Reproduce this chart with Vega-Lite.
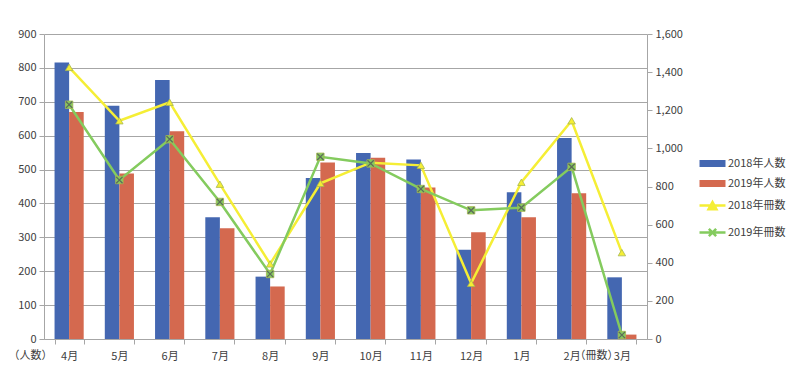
{
  "$schema": "https://vega.github.io/schema/vega-lite/v6.json",
  "width": 603,
  "height": 305,
  "autosize": {"type": "none"},
  "padding": {"left": 44, "top": 34, "right": 157, "bottom": 52},
  "background": "white",
  "config": {
    "view": {"stroke": null},
    "font": "Noto Sans CJK JP",
    "axis": {"labelFont": "Noto Sans CJK JP", "titleFont": "Noto Sans CJK JP", "labelColor": "#404040", "titleColor": "#404040", "labelFontSize": 11, "titleFontSize": 11, "titleFontWeight": "normal", "domainColor": "#a6a6a6", "tickColor": "#a6a6a6"},
    "legend": {"labelFont": "Noto Sans CJK JP", "labelFontSize": 11, "labelColor": "#404040"}
  },
  "data": {
    "values": [
      {"month": "4月", "series": "2018年人数", "kind": "people", "value": 816},
      {"month": "5月", "series": "2018年人数", "kind": "people", "value": 688},
      {"month": "6月", "series": "2018年人数", "kind": "people", "value": 764},
      {"month": "7月", "series": "2018年人数", "kind": "people", "value": 359},
      {"month": "8月", "series": "2018年人数", "kind": "people", "value": 184},
      {"month": "9月", "series": "2018年人数", "kind": "people", "value": 475},
      {"month": "10月", "series": "2018年人数", "kind": "people", "value": 549},
      {"month": "11月", "series": "2018年人数", "kind": "people", "value": 530},
      {"month": "12月", "series": "2018年人数", "kind": "people", "value": 263},
      {"month": "1月", "series": "2018年人数", "kind": "people", "value": 433},
      {"month": "2月", "series": "2018年人数", "kind": "people", "value": 593},
      {"month": "3月", "series": "2018年人数", "kind": "people", "value": 182},
      {"month": "4月", "series": "2019年人数", "kind": "people", "value": 670},
      {"month": "5月", "series": "2019年人数", "kind": "people", "value": 488},
      {"month": "6月", "series": "2019年人数", "kind": "people", "value": 613},
      {"month": "7月", "series": "2019年人数", "kind": "people", "value": 327},
      {"month": "8月", "series": "2019年人数", "kind": "people", "value": 155},
      {"month": "9月", "series": "2019年人数", "kind": "people", "value": 521},
      {"month": "10月", "series": "2019年人数", "kind": "people", "value": 535},
      {"month": "11月", "series": "2019年人数", "kind": "people", "value": 447},
      {"month": "12月", "series": "2019年人数", "kind": "people", "value": 315},
      {"month": "1月", "series": "2019年人数", "kind": "people", "value": 359},
      {"month": "2月", "series": "2019年人数", "kind": "people", "value": 430},
      {"month": "3月", "series": "2019年人数", "kind": "people", "value": 13},
      {"month": "4月", "series": "2018年冊数", "kind": "books", "value": 1425},
      {"month": "5月", "series": "2018年冊数", "kind": "books", "value": 1145},
      {"month": "6月", "series": "2018年冊数", "kind": "books", "value": 1242},
      {"month": "7月", "series": "2018年冊数", "kind": "books", "value": 812},
      {"month": "8月", "series": "2018年冊数", "kind": "books", "value": 394},
      {"month": "9月", "series": "2018年冊数", "kind": "books", "value": 817},
      {"month": "10月", "series": "2018年冊数", "kind": "books", "value": 925},
      {"month": "11月", "series": "2018年冊数", "kind": "books", "value": 911},
      {"month": "12月", "series": "2018年冊数", "kind": "books", "value": 292},
      {"month": "1月", "series": "2018年冊数", "kind": "books", "value": 822},
      {"month": "2月", "series": "2018年冊数", "kind": "books", "value": 1145},
      {"month": "3月", "series": "2018年冊数", "kind": "books", "value": 453},
      {"month": "4月", "series": "2019年冊数", "kind": "books", "value": 1229},
      {"month": "5月", "series": "2019年冊数", "kind": "books", "value": 834},
      {"month": "6月", "series": "2019年冊数", "kind": "books", "value": 1048},
      {"month": "7月", "series": "2019年冊数", "kind": "books", "value": 719},
      {"month": "8月", "series": "2019年冊数", "kind": "books", "value": 341},
      {"month": "9月", "series": "2019年冊数", "kind": "books", "value": 956},
      {"month": "10月", "series": "2019年冊数", "kind": "books", "value": 921},
      {"month": "11月", "series": "2019年冊数", "kind": "books", "value": 787},
      {"month": "12月", "series": "2019年冊数", "kind": "books", "value": 675},
      {"month": "1月", "series": "2019年冊数", "kind": "books", "value": 689},
      {"month": "2月", "series": "2019年冊数", "kind": "books", "value": 903},
      {"month": "3月", "series": "2019年冊数", "kind": "books", "value": 21}
    ]
  },
  "encoding": {
    "x": {
      "field": "month", "type": "nominal",
      "sort": ["4月","5月","6月","7月","8月","9月","10月","11月","12月","1月","2月","3月"],
      "scale": {"paddingInner": 0.42, "paddingOuter": 0.21},
      "axis": {"title": null, "labelAngle": 0, "tickBand": "extent", "tickSize": 5, "labelPadding": 6, "domainColor": "#a6a6a6"}
    },
    "color": {
      "field": "series", "type": "nominal",
      "scale": {"domain": ["2018年人数","2019年人数","2018年冊数","2019年冊数"], "range": ["#4467B1","#D4694F","#F5EE35","#84CB5E"]},
      "legend": {
        "title": null, "orient": "none", "legendX": 663, "legendY": 124,
        "symbolSize": 676, "rowPadding": 8, "labelOffset": 10, "labelFontSize": 11,
        "encode": {
          "symbols": {
            "update": {
              "shape": {"signal": "(datum.value == '2018年人数' || datum.value == '2019年人数') ? 'M-1,-0.27H1V0.27H-1Z' : datum.value == '2018年冊数' ? 'M-1,0H1M-0.3,0.28L0,-0.26L0.3,0.28Z' : 'M-1,0H1M-0.28,-0.28L0.28,0.28M-0.28,0.28L0.28,-0.28'"},
              "fill": {"signal": "datum.value == '2018年人数' ? '#4467B1' : datum.value == '2019年人数' ? '#D4694F' : datum.value == '2018年冊数' ? '#F5EE35' : 'transparent'"},
              "stroke": {"signal": "datum.value == '2018年冊数' ? '#F5EE35' : datum.value == '2019年冊数' ? '#84CB5E' : 'transparent'"},
              "strokeWidth": {"signal": "(datum.value == '2018年人数' || datum.value == '2019年人数') ? 0 : 2.5"},
              "opacity": {"value": 1},
              "fillOpacity": {"value": 1}
            }
          }
        }
      }
    }
  },
  "layer": [
    {
      "transform": [{"filter": "datum.kind == 'people'"}],
      "mark": {"type": "bar"},
      "encoding": {
        "xOffset": {"field": "series", "type": "nominal", "sort": ["2018年人数","2019年人数"], "scale": {"paddingInner": 0, "paddingOuter": 0}},
        "y": {
          "field": "value", "type": "quantitative",
          "scale": {"domain": [0, 900], "nice": false},
          "axis": {"title": "（人数）", "titleAngle": 0, "titleX": -14, "titleY": 321, "titleAlign": "center", "titleBaseline": "middle", "values": [0,100,200,300,400,500,600,700,800,900], "format": "d", "grid": true, "gridColor": "#a6a6a6", "tickSize": 5, "labelPadding": 3}
        }
      }
    },
    {
      "transform": [{"filter": "datum.kind == 'books'"}],
      "encoding": {
        "y": {
          "field": "value", "type": "quantitative",
          "scale": {"domain": [0, 1600], "nice": false},
          "axis": {"orient": "right", "title": "（冊数）", "titleAngle": 0, "titleX": -51, "titleY": 321, "titleAlign": "center", "titleBaseline": "middle", "values": [0,200,400,600,800,1000,1200,1400,1600], "format": ",.0f", "grid": false, "tickSize": 5, "labelPadding": 3}
        }
      },
      "layer": [
        {
          "mark": {"type": "line", "strokeWidth": 2.5}
        },
        {
          "mark": {"type": "point", "filled": true, "size": 55, "opacity": 1},
          "encoding": {
            "shape": {"field": "series", "type": "nominal", "scale": {"domain": ["2018年冊数","2019年冊数"], "range": ["triangle-up","square"]}, "legend": null},
            "stroke": {"value": "#a8b850"},
            "strokeWidth": {"value": 0.8}
          }
        },
        {
          "transform": [{"filter": "datum.series == '2019年冊数'"}],
          "mark": {"type": "point", "shape": "M-1,-1L1,1M-1,1L1,-1", "size": 40, "filled": false, "stroke": "#5e6a5a", "strokeWidth": 1.3, "opacity": 1},
          "encoding": {
            "color": {"value": "#5e6a5a"}
          }
        }
      ]
    }
  ],
  "resolve": {"scale": {"y": "independent"}}
}
